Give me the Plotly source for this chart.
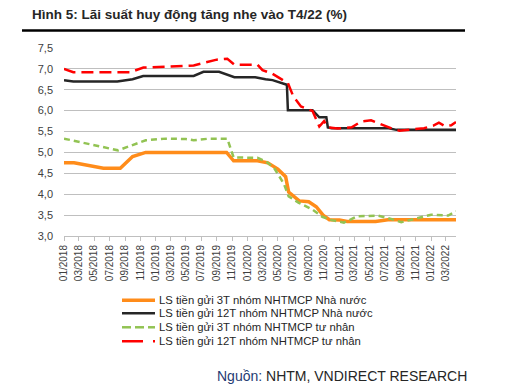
import plotly.graph_objects as go

title_text = "Hình 5: Lãi suất huy động tăng nhẹ vào T4/22 (%)"
source_text = "<span style='color:#1F3B73'>Nguồn:</span> NHTM, VNDIRECT RESEARCH"

series_names = [
    "LS tiền gửi 3T nhóm NHTMCP Nhà nước",
    "LS tiền gửi 12T nhóm NHTMCP Nhà nước",
    "LS tiền gửi 3T nhóm NHTMCP tư nhân",
    "LS tiền gửi 12T nhóm NHTMCP tư nhân",
]

dates_3t_state = ["2018-01-01", "2018-02-10", "2018-06-07", "2018-08-13", "2018-10-01", "2018-11-22",
                  "2019-10-10", "2019-11-07", "2020-02-10", "2020-03-22", "2020-05-01", "2020-06-01",
                  "2020-06-13", "2020-07-25", "2020-09-01", "2020-10-01", "2020-10-28", "2020-11-22",
                  "2021-01-01", "2021-02-01", "2021-05-25", "2021-07-13", "2022-04-10"]
vals_3t_state = [4.75, 4.75, 4.62, 4.62, 4.90, 5.00,
                 5.00, 4.80, 4.80, 4.75, 4.60, 4.42,
                 4.05, 3.84, 3.82, 3.70, 3.50, 3.39,
                 3.38, 3.35, 3.35, 3.39, 3.39]

dates_12t_state = ["2018-01-01", "2018-02-07", "2018-08-01", "2018-10-01", "2018-11-12", "2019-06-01",
                   "2019-07-10", "2019-09-10", "2019-11-10", "2020-02-01", "2020-03-13", "2020-04-10",
                   "2020-06-06", "2020-06-10", "2020-09-16", "2020-10-13", "2020-11-10", "2020-11-16",
                   "2020-12-01", "2021-07-16", "2021-08-16", "2022-04-10"]
vals_12t_state = [6.73, 6.70, 6.70, 6.75, 6.83, 6.83,
                  6.93, 6.93, 6.80, 6.80, 6.75, 6.73,
                  6.62, 6.01, 6.01, 5.84, 5.84, 5.60,
                  5.58, 5.58, 5.54, 5.54]

dates_3t_priv = ["2018-01-01", "2018-08-04", "2018-11-22", "2019-02-10", "2019-05-01", "2019-06-01",
                 "2019-08-01", "2019-10-13", "2019-11-07", "2020-02-10", "2020-03-16", "2020-04-16",
                 "2020-05-25", "2020-06-13", "2020-07-22", "2020-09-16", "2020-10-25", "2020-12-01",
                 "2021-01-19", "2021-03-13", "2021-06-01", "2021-07-25", "2021-09-04", "2021-10-25",
                 "2022-01-01", "2022-03-10", "2022-04-10"]
vals_3t_priv = [5.33, 5.05, 5.29, 5.33, 5.32, 5.29,
                5.33, 5.33, 4.88, 4.87, 4.78, 4.63,
                4.25, 3.95, 3.80, 3.63, 3.46, 3.38,
                3.32, 3.47, 3.49, 3.41, 3.33, 3.41,
                3.51, 3.49, 3.59]

dates_12t_priv = ["2018-01-01", "2018-02-07", "2018-09-22", "2018-11-13", "2019-02-16", "2019-06-01",
                  "2019-09-01", "2019-10-13", "2019-11-10", "2020-02-10", "2020-03-01", "2020-04-10",
                  "2020-06-10", "2020-07-01", "2020-08-01", "2020-09-16", "2020-10-13", "2020-11-01",
                  "2020-11-16", "2020-12-25", "2021-02-19", "2021-03-28", "2021-05-07", "2021-06-16",
                  "2021-07-25", "2021-08-28", "2021-10-13", "2021-12-04", "2022-01-10", "2022-02-01",
                  "2022-02-25", "2022-03-22", "2022-04-10"]
vals_12t_priv = [7.00, 6.92, 6.92, 7.03, 7.05, 7.08,
                 7.22, 7.24, 7.10, 7.10, 6.97, 6.88,
                 6.66, 6.35, 6.10, 5.99, 5.62, 5.75,
                 5.60, 5.57, 5.60, 5.74, 5.77, 5.67,
                 5.58, 5.52, 5.55, 5.58, 5.64, 5.71,
                 5.63, 5.65, 5.73]

y_ticks = [3.0, 3.5, 4.0, 4.5, 5.0, 5.5, 6.0, 6.5, 7.0, 7.5]

colors = ["#FF8C1A", "#262626", "#92C353", "#FF0000"]
widths = [3.5, 2.5, 2.5, 2.5]
dashes = ["solid", "solid", "6px,4px", "12px,6px"]

all_dates = [dates_3t_state, dates_12t_state, dates_3t_priv, dates_12t_priv]
all_vals = [vals_3t_state, vals_12t_state, vals_3t_priv, vals_12t_priv]

W, H = 527, 392
# paper region (margins) and the plot area inside it (via axis domains)
ML, MR, MT, MB = 20, 466, 26, 236.5
PL, PR, PT, PB = 64, 456, 48, 236.5
PW, PH = MR - ML, MB - MT

def px_x(x):
    return (x - ML) / PW

def px_y(y):
    return (MB - y) / PH

fig = go.Figure()
for name, d, v, c, w, ds in zip(series_names, all_dates, all_vals, colors, widths, dashes):
    fig.add_trace(go.Scatter(x=d, y=v, mode="lines", name=name, showlegend=False,
                             line=dict(color=c, width=w, dash=ds)))

# rule under the title: a thin decorative strip axis pair spanning the top of the paper
rule_span = [22, 465]
fig.add_trace(go.Scatter(x=rule_span, y=[0, 0], mode="lines", xaxis="x2", yaxis="y2",
                         showlegend=False, hoverinfo="skip",
                         line=dict(color="black", width=2.5)))

fig.update_layout(
    width=W, height=H,
    margin=dict(l=ML, r=W - MR, t=MT, b=H - MB, autoexpand=False),
    paper_bgcolor="white", plot_bgcolor="rgba(0,0,0,0)",
    separators=",.",
    font=dict(family="Liberation Sans, Arial, sans-serif", color="#262626"),
    xaxis=dict(
        domain=[px_x(PL), px_x(PR)],
        type="date", range=["2018-01-01", "2022-04-10"],
        tick0="2018-01-01", dtick="M2", tickformat="%m/%Y", tickangle=-90,
        tickfont=dict(size=10, color="#404040"),
        showgrid=False, zeroline=False,
        showline=True, linecolor="#BFBFBF", linewidth=1,
        ticks="outside", ticklen=4, tickcolor="#BFBFBF",
    ),
    yaxis=dict(
        domain=[px_y(PB), px_y(PT)],
        range=[3, 7.5], tickvals=y_ticks, tickformat=".1f",
        tickfont=dict(size=11, color="#404040"),
        showgrid=True, gridcolor="#BFBFBF", gridwidth=1,
        zeroline=False, showline=False, ticks="", ticklabelstandoff=10,
    ),
    xaxis2=dict(domain=[0, 1], range=[ML, MR], anchor="y2", visible=False, fixedrange=True),
    yaxis2=dict(domain=[px_y(35), px_y(26)], range=[-1, 1], anchor="x2", visible=False,
                fixedrange=True),
)

# title (right end anchored at the reference position)
fig.add_annotation(text="<b>" + title_text + "</b>", xref="paper", yref="paper",
                   x=px_x(349), y=px_y(14), xanchor="right", yanchor="middle",
                   showarrow=False, font=dict(size=13.5, color="#262626"))

# compact legend drawn with shapes + text
leg_rows = [301, 314, 328, 342]
for i, (name, c, w, ds) in enumerate(zip(series_names, colors, widths, dashes)):
    yp = px_y(leg_rows[i])
    if i == 2:
        segs = [(122, 131), (135, 144), (148, 155)]
    elif i == 3:
        segs = [(122, 143), (153, 155)]
    else:
        segs = [(122, 155)]
    for a, b in segs:
        fig.add_shape(type="line", xref="paper", yref="paper",
                      x0=px_x(a), x1=px_x(b), y0=yp, y1=yp,
                      line=dict(color=c, width=w))
    fig.add_annotation(text=name, xref="paper", yref="paper", x=px_x(157), y=yp,
                       xanchor="left", yanchor="middle", showarrow=False,
                       font=dict(size=11.3, color="#262626"))

# source
fig.add_annotation(text=source_text, xref="paper", yref="paper",
                   x=px_x(469), y=px_y(377), xanchor="right", yanchor="middle",
                   showarrow=False, font=dict(size=14, color="#262626"))

fig.write_html("out.html", config={"displayModeBar": False},
               post_script="document.body.style.margin='0px';")
